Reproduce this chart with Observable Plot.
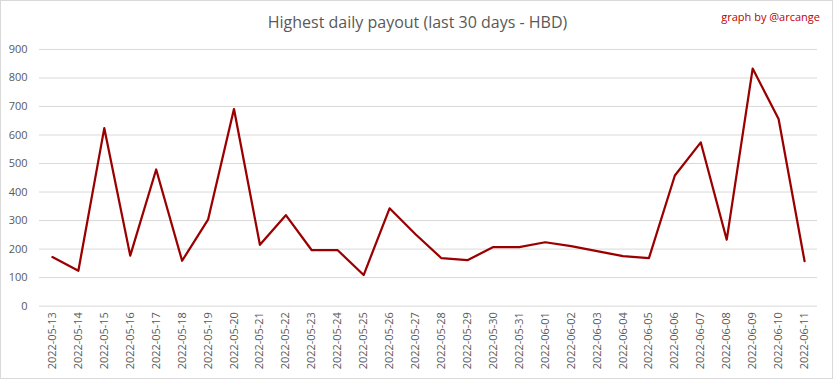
<!DOCTYPE html>
<html>
<head>
<meta charset="utf-8">
<script src="https://cdn.jsdelivr.net/npm/d3@7"></script>
<script src="https://cdn.jsdelivr.net/npm/@observablehq/plot@0.6"></script>
<style>
  html, body { margin: 0; padding: 0; background: #fff; }
  #wrap { position: relative; width: 833px; height: 379px; box-sizing: border-box; border: 1px solid #d9d9d9; overflow: hidden; }
  #title { position: absolute; left: 0; width: 833px; top: 10px; text-align: center; font-family: "Open Sans", sans-serif; font-size: 16px; color: #595959; }
  #credit { position: absolute; right: 12px; top: 8px; font-family: "Open Sans", sans-serif; font-size: 11px; color: #c00000; }
  #chart { position: absolute; left: -1px; top: -1px; }
</style>
</head>
<body>
<div id="wrap">
  <div id="chart"></div>
  <div id="title">Highest daily payout (last 30 days - HBD)</div>
  <div id="credit">graph by @arcange</div>
</div>
<script>
const dates = [
  "2022-05-13","2022-05-14","2022-05-15","2022-05-16","2022-05-17","2022-05-18",
  "2022-05-19","2022-05-20","2022-05-21","2022-05-22","2022-05-23","2022-05-24",
  "2022-05-25","2022-05-26","2022-05-27","2022-05-28","2022-05-29","2022-05-30",
  "2022-05-31","2022-06-01","2022-06-02","2022-06-03","2022-06-04","2022-06-05",
  "2022-06-06","2022-06-07","2022-06-08","2022-06-09","2022-06-10","2022-06-11"
];
const payouts = [
  172, 124, 624, 177, 479, 159,
  303, 691, 215, 319, 196, 196,
  109, 343, 252, 168, 161, 207,
  207, 224, 210, 193, 175, 168,
  458, 574, 233, 833, 656, 158
];
const yTicks = [0, 100, 200, 300, 400, 500, 600, 700, 800, 900];

const data = dates.map((d, i) => ({date: d, value: payouts[i]}));

const chart = Plot.plot({
  width: 833,
  height: 379,
  marginLeft: 39,
  marginRight: 15,
  marginTop: 49,
  marginBottom: 73,
  style: {fontFamily: "Open Sans, sans-serif", fontSize: "11px", color: "#595959", background: "transparent"},
  x: {type: "point", domain: dates, padding: 0.5, round: false, label: null},
  y: {domain: [0, 900], ticks: yTicks, label: null},
  marks: [
    Plot.gridY(yTicks, {stroke: "#d9d9d9", strokeOpacity: 1, strokeWidth: 1}),
    Plot.axisY(yTicks, {tickSize: 0, tickPadding: 12, fill: "#595959", fontSize: 11, label: null}),
    Plot.axisX({tickSize: 0, tickPadding: 6, tickRotate: -90, fill: "#595959", fontSize: 11, label: null}),
    Plot.lineY(data, {x: "date", y: "value", stroke: "#9b0000", strokeWidth: 2.25})
  ]
});
document.getElementById("chart").appendChild(chart);
</script>
</body>
</html>
